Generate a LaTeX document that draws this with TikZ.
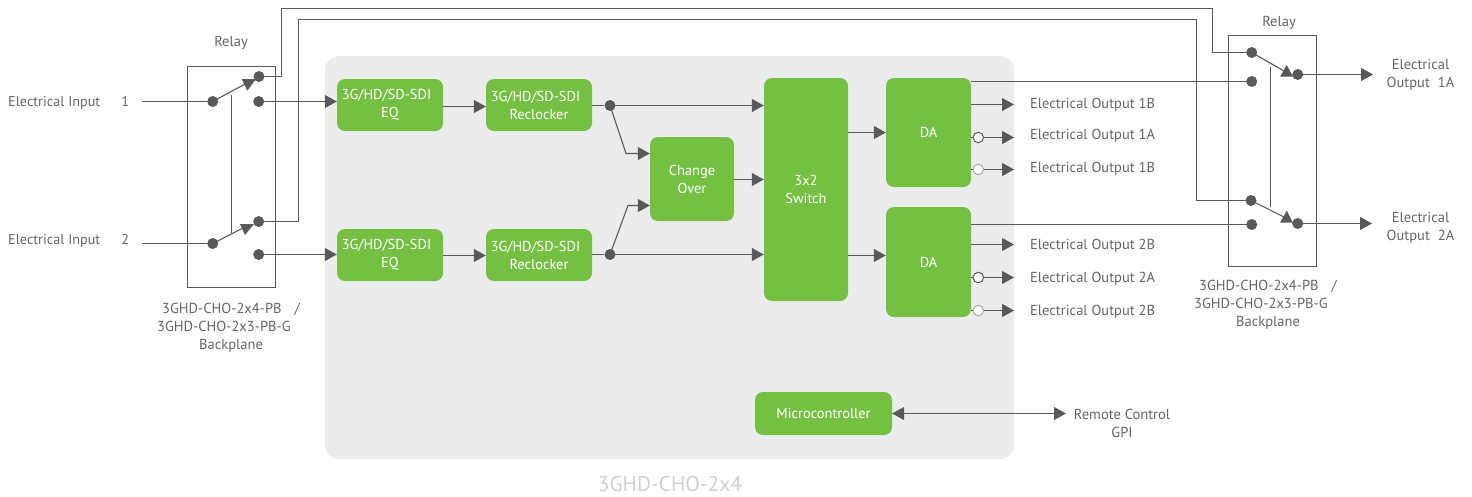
\documentclass[tikz,border=0pt]{standalone}
\usepackage{fontspec}
\setmainfont{PT Sans}
\usetikzlibrary{arrows.meta,calc}
\definecolor{ink}{HTML}{58595B}
\definecolor{txt}{HTML}{646567}
\definecolor{leaf}{HTML}{75BF43}
\definecolor{panel}{HTML}{EBECEE}
\definecolor{pale}{HTML}{A7A9AC}
\definecolor{capt}{HTML}{CDCFD1}
\tikzset{
  box/.style={fill=leaf,rounded corners=8pt,text=white,align=center,inner sep=0pt,font=\fontsize{14.4}{18}\selectfont},
  relaybox/.style={draw=ink,line width=1pt,fill=none,inner sep=0pt,outer sep=0pt},
  wire/.style={draw=ink,line width=1.1pt},
  arrow/.style={wire,-{Triangle[length=12pt,width=13pt]}},
  darrow/.style={wire,{Triangle[length=12pt,width=13pt]}-{Triangle[length=12pt,width=13pt]}},
  dot/.style={circle,fill=ink,minimum size=11pt,inner sep=0pt},
  ring/.style={circle,draw=ink,fill=white,line width=1pt,minimum size=10.5pt,inner sep=0pt},
  palering/.style={ring,draw=pale},
  head/.style={fill=ink,draw=none},
  lab/.style={text=txt,inner sep=0pt,font=\fontsize{14.5}{18}\selectfont},
  inlab/.style={lab,font=\fontsize{14.2}{18}\selectfont},
}
\begin{document}
\begin{tikzpicture}[x=1pt,y=-1pt]
\useasboundingbox (0,0) rectangle (1472,496);
\fill[panel,rounded corners=14pt] (325,56) rectangle (1014,459);
% relay frames
\node[relaybox,minimum width=88pt,minimum height=221pt] (rl) at (231.5,177) {};
\node[relaybox,minimum width=88pt,minimum height=231pt] (rr) at (1272.5,151) {};
% boxes
\node[box,minimum width=106pt,minimum height=52pt] (eqa) at (390,105) {3G/HD/SD-SDI\hspace*{7pt}\\EQ};
\node[box,minimum width=106pt,minimum height=52pt] (eqb) at (390,255) {3G/HD/SD-SDI\hspace*{7pt}\\EQ};
\node[box,minimum width=106pt,minimum height=52pt] (rca) at (539,105) {3G/HD/SD-SDI\hspace*{7pt}\\Reclocker};
\node[box,minimum width=106pt,minimum height=52pt] (rcb) at (539,255) {3G/HD/SD-SDI\hspace*{7pt}\\Reclocker};
\node[box,minimum width=84pt,minimum height=84pt] (chg) at (692,179) {Change\\Over};
\node[box,minimum width=84pt,minimum height=223pt] (sw) at (806,189.5) {3x2\\Switch};
\node[box,minimum width=85pt,minimum height=109pt] (daa) at (928.5,132.5) {DA};
\node[box,minimum width=85pt,minimum height=110pt] (dab) at (928.5,262) {DA};
\node[box,minimum width=137pt,minimum height=43pt] (mc) at (823.5,413.5) {Microcontroller};
% relay contacts
\node[dot] (li1) at (212.7,101.5) {};
\node[dot] (lt1) at (259,76.5) {};
\node[dot] (lb1) at (258.7,101.5) {};
\node[dot] (li2) at (212.7,243.5) {};
\node[dot] (lt2) at (258.7,221.5) {};
\node[dot] (lb2) at (258.7,254.5) {};
\node[dot] (ra1) at (1251.7,52.5) {};
\node[dot] (rb1) at (1251.7,81.5) {};
\node[dot] (ro1) at (1297.7,74.5) {};
\node[dot] (ra2) at (1251,200.5) {};
\node[dot] (rb2) at (1251.7,224.5) {};
\node[dot] (ro2) at (1297.7,223.5) {};
\node[dot] (ja) at (610,105.5) {};
\node[dot] (jb) at (610,254.5) {};
% text
\node[inlab,anchor=west] (ei1) at (8,103) {Electrical Input\hspace{21pt}1};
\node[inlab,anchor=west] (ei2) at (8,241) {Electrical Input\hspace{21pt}2};
\node[lab] at (231,42.5) {Relay};
\node[lab] at (1279,22.5) {Relay};
\node[lab,anchor=north west,align=left] at (157,302.5) {\hspace*{5pt}3GHD-CHO-2x4-PB\hspace{13pt}/\\3GHD-CHO-2x3-PB-G\\\hspace*{42pt}Backplane};
\node[lab,anchor=north west,align=left] at (1194,280) {\hspace*{5pt}3GHD-CHO-2x4-PB\hspace{13pt}/\\3GHD-CHO-2x3-PB-G\\\hspace*{42pt}Backplane};
\node[lab,align=center] (oa) at (1420.5,75) {Electrical\\Output\hspace{8pt}1A};
\node[lab,align=center] (ob) at (1420.5,228) {Electrical\\Output\hspace{8pt}2A};
\node[lab,anchor=west] at (1030,105) {Electrical Output 1B};
\node[lab,anchor=west] at (1030,136) {Electrical Output 1A};
\node[lab,anchor=west] at (1030,169) {Electrical Output 1B};
\node[lab,anchor=west] at (1030,246) {Electrical Output 2B};
\node[lab,anchor=west] at (1030,279) {Electrical Output 2A};
\node[lab,anchor=west] at (1030,312) {Electrical Output 2B};
\node[lab,align=center] (rc) at (1122,423) {Remote Control\\GPI};
\node[text=capt,inner sep=0pt,font=\fontsize{21.4}{24}\selectfont] at (670,484) {3GHD-CHO-2x4};
% free ends
\coordinate (in1) at (142,101.5);
\coordinate (in2) at (142,243.5);
\coordinate (ka) at (626,153.5);
\coordinate (kb) at (628,205.5);
\coordinate (end1) at (1373,74.5);
\coordinate (end2) at (1372,223.5);
\coordinate (rcw) at (1066,413.5);
\coordinate (c1) at (1014,104.5);
\coordinate (c4) at (1014,244.5);
\coordinate (ta) at (281.5,8.5);
\coordinate (tb) at (1212.5,8.5);
\coordinate (ua) at (298.5,19.5);
\coordinate (ub) at (1196.5,19.5);
% input wires
\draw[wire] (in1) -- (li1);
\draw[wire] (in2) -- (li2);
\draw[arrow] (lb1.center) -- (lb1.center -| eqa.west);
\draw[arrow] (lb2.center) -- (lb2.center -| eqb.west);
% long crossover wires
\draw[wire] (lt1.center) -| (ta) -- (tb) |- (ra1.center);
\draw[wire] (lt2.center) -| (ua) -- (ub) |- (ra2.center);
% left switches
\draw[wire] (li1.center) -- (247,83);
\draw[wire] (li2.center) -- (245,227);
\fill[head] (241.7,79) -- (256,79) -- (247.3,90.7) -- cycle;
\fill[head] (240,224) -- (254,224) -- (245,235) -- cycle;
\draw[wire,line width=1pt] (231.5,95) -- (231.5,233);
% right switches
\draw[wire] (ra1.center) -- (1284,71);
\draw[wire] (ra2.center) -- (1284,217);
\fill[head] (1280,76.7) -- (1293,76.7) -- (1286.7,65) -- cycle;
\fill[head] (1280,222.7) -- (1293,222.7) -- (1286.7,210.7) -- cycle;
\draw[wire,line width=1pt] (1270.5,67) -- (1270.5,207);
\draw[arrow] (ro1.center) -- (end1);
\draw[arrow] (ro2.center) -- (end2);
% chain
\draw[arrow] ([yshift=-1.5pt]eqa.east) -- ([yshift=-1.5pt]rca.west);
\draw[arrow] ([yshift=-.5pt]eqb.east) -- ([yshift=-.5pt]rcb.west);
\draw[wire] (rca.east |- ja) -- (ja);
\draw[wire] (rcb.east |- jb) -- (jb);
\draw[arrow] (ja.center) -- (ja.center -| sw.west);
\draw[arrow] (jb.center) -- (jb.center -| sw.west);
\draw[arrow] (ja.center) -- (ka) -- (ka -| chg.west);
\draw[arrow] (jb.center) -- (kb) -- (kb -| chg.west);
\draw[arrow] ([yshift=-.5pt]chg.east) -- ([yshift=-.5pt]chg.east -| sw.west);
\draw[arrow] (sw.east |- 0,132.5) -- (daa.west |- 0,132.5);
\draw[arrow] (sw.east |- 0,255.5) -- (dab.west |- 0,255.5);
% DA outputs
\draw[wire] (daa.east |- rb1) -- (rb1.center);
\draw[wire] (dab.east |- rb2) -- (rb2.center);
\draw[arrow] (daa.east |- c1) -- (c1);
\draw[arrow] (dab.east |- c4) -- (c4);
\node[ring] (c2) at (978.3,137.5) {};
\node[palering] (c3) at (978.3,169.5) {};
\node[ring] (c5) at (978.3,277.5) {};
\node[palering] (c6) at (978.3,310.5) {};
\draw[wire] (daa.east |- c2) -- (c2);
\draw[wire] (daa.east |- c3) -- (c3);
\draw[wire] (dab.east |- c5) -- (c5);
\draw[wire] (dab.east |- c6) -- (c6);
\draw[arrow] (c2) -- (c2 -| c1);
\draw[arrow] (c3) -- (c3 -| c1);
\draw[arrow] (c5) -- (c5 -| c1);
\draw[arrow] (c6) -- (c6 -| c1);
\draw[darrow] (mc.east) -- (rcw);
\end{tikzpicture}
\end{document}
